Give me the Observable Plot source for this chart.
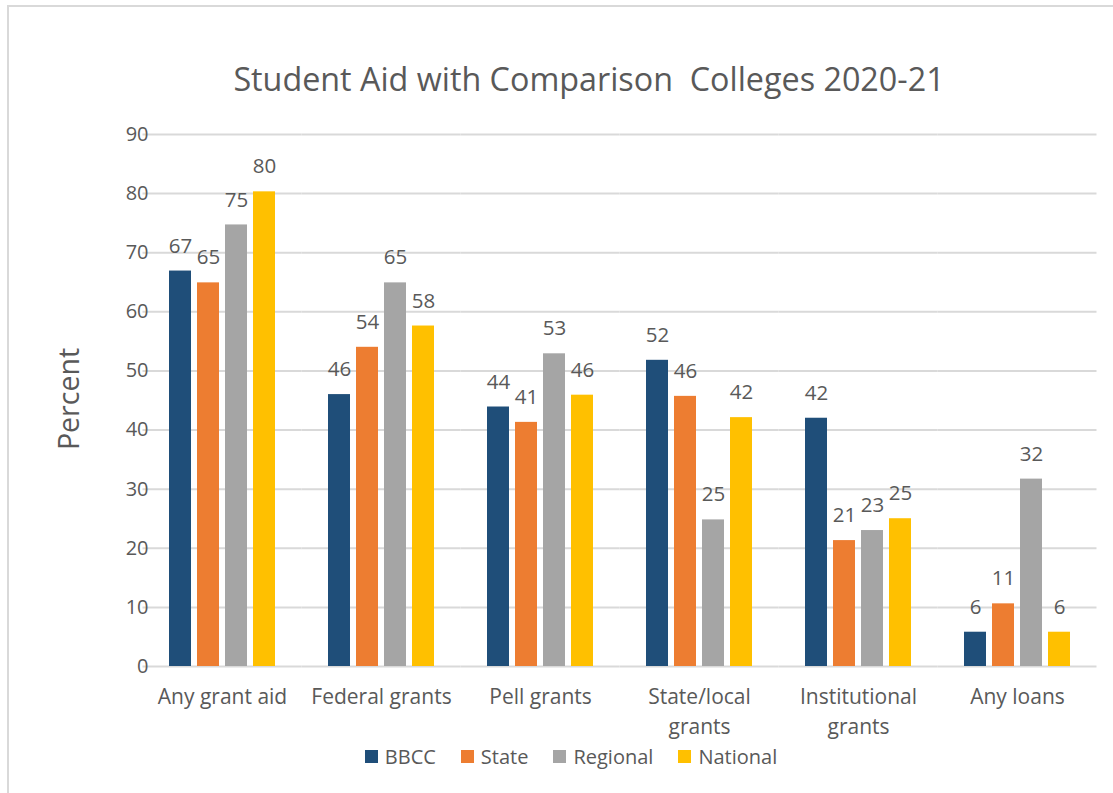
<!DOCTYPE html>
<html>
<head>
<meta charset="utf-8">
<script src="https://cdn.jsdelivr.net/npm/d3@7"></script>
<script src="https://cdn.jsdelivr.net/npm/@observablehq/plot@0.6"></script>
<style>
  html, body { margin: 0; padding: 0; background: #fff; }
  #wrap { position: relative; width: 1113px; height: 793px; overflow: hidden; font-family: "Open Sans", sans-serif; color: #595959; }
  #frame { position: absolute; left: 7px; top: 5px; width: 1300px; height: 1000px; border: 2px solid #d9d9d9; box-sizing: border-box; }
  #title { position: absolute; left: 0; top: 57px; width: 1178px; text-align: center; font-size: 32.3px; line-height: 42px; white-space: pre; }
  #ylabel { position: absolute; left: 68px; top: 399px; transform: translate(-50%, -50%) rotate(-90deg); font-size: 28.5px; line-height: 30px; white-space: nowrap; }
  #chart { position: absolute; left: 0; top: 0; }
  #legend { position: absolute; left: 0; top: 743px; width: 1167px; display: flex; justify-content: center; }
  #legend .leg-swatches { font-family: "Open Sans", sans-serif; font-size: 20px; color: #595959; margin: 0; min-height: 0; }
  #legend .leg-swatch { margin-right: 25px !important; }
  #legend .leg-swatch > svg { margin-right: 7px !important; }
</style>
</head>
<body>
<div id="wrap">
  <div id="frame"></div>
  <div id="title"></div>
  <div id="ylabel"></div>
  <div id="chart"></div>
  <div id="legend"></div>
</div>
<script>
const titleText = "Student Aid with Comparison  Colleges 2020-21";
const yLabelText = "Percent";
const categories = ["Any grant aid", "Federal grants", "Pell grants", "State/local grants", "Institutional grants", "Any loans"];
const categoryLabels = ["Any grant aid", "Federal grants", "Pell grants", "State/local\ngrants", "Institutional\ngrants", "Any loans"];
const series = ["BBCC", "State", "Regional", "National"];
const seriesColors = ["#1F4E79", "#ED7D31", "#A5A5A5", "#FFC000"];
const bbcc = [66.9, 46, 43.9, 51.8, 42, 5.8];
const state = [64.9, 54, 41.3, 45.7, 21.3, 10.6];
const regional = [74.7, 64.9, 52.9, 24.8, 23, 31.7];
const national = [80.3, 57.6, 45.9, 42.1, 25, 5.8];
const yTicks = [0, 10, 20, 30, 40, 50, 60, 70, 80, 90];

const seriesValues = [bbcc, state, regional, national];
const rows = [];
categories.forEach((c, i) => {
  series.forEach((s, j) => rows.push({category: c, series: s, value: seriesValues[j][i]}));
});
const labelRows = categories.map((c, i) => ({category: c, label: categoryLabels[i]}));

document.getElementById("title").textContent = titleText;
document.getElementById("ylabel").textContent = yLabelText;

const textColor = "#595959";
const plotWidth = 1113, mLeft = 142, mRight = 15;
const fxPadInner = 0.32, fxPadOuter = 0.16;
const fxStep = (plotWidth - mLeft - mRight) / (categories.length - fxPadInner + 2 * fxPadOuter);
const gridExtend = -fxStep * fxPadInner / 2;

const chart = Plot.plot({
  width: plotWidth,
  height: 745,
  marginTop: 134,
  marginBottom: 79,
  marginLeft: mLeft,
  marginRight: mRight,
  style: {fontFamily: "'Open Sans', sans-serif", color: textColor, background: "transparent"},
  fx: {domain: categories, paddingInner: fxPadInner, paddingOuter: fxPadOuter, axis: null},
  x: {domain: series, paddingInner: 0.22, paddingOuter: 0, axis: null},
  y: {domain: [0, 90], axis: null},
  color: {domain: series, range: seriesColors},
  marks: [
    Plot.ruleY(yTicks, {y: d => d, stroke: "#d9d9d9", strokeWidth: 2, insetLeft: gridExtend, insetRight: gridExtend}),
    Plot.axisY({ticks: yTicks, tickSize: 0, tickPadding: 20, fontSize: 20, fill: textColor, label: null}),
    Plot.barY(rows, {fx: "category", x: "series", y: "value", fill: "series"}),
    Plot.text(rows, {fx: "category", x: "series", y: "value", text: d => d3.format(".0f")(d.value), dy: -25, fontSize: 20.5, fill: textColor}),
    Plot.text(labelRows, {fx: "category", text: "label", frameAnchor: "bottom", dy: 16, lineAnchor: "top", lineHeight: 1.43, fontSize: 21, fill: textColor})
  ]
});
document.getElementById("chart").appendChild(chart);

const legend = Plot.legend({color: {domain: series, range: seriesColors}, className: "leg", swatchSize: 13});
document.getElementById("legend").appendChild(legend);
</script>
</body>
</html>
